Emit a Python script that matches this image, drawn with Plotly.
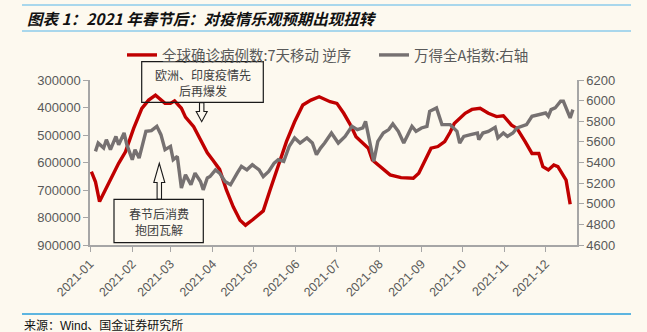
import plotly.graph_objects as go

# ---------------- data ----------------
case_dates = ["2021-01-02","2021-01-05","2021-01-08","2021-01-14","2021-01-22","2021-01-27",
 "2021-02-02","2021-02-08","2021-02-13","2021-02-18","2021-02-23","2021-02-25","2021-03-01",
 "2021-03-04","2021-03-09","2021-03-12","2021-03-18","2021-03-23","2021-03-28","2021-04-01",
 "2021-04-06","2021-04-11","2021-04-16","2021-04-21","2021-04-25","2021-04-30","2021-05-08",
 "2021-05-13","2021-05-19","2021-05-25","2021-05-31","2021-06-06","2021-06-12","2021-06-18",
 "2021-06-26","2021-07-01","2021-07-06","2021-07-11","2021-07-15","2021-07-20","2021-07-24",
 "2021-07-27","2021-08-03","2021-08-09","2021-08-17","2021-08-26","2021-08-30","2021-09-03",
 "2021-09-08","2021-09-13","2021-09-18","2021-09-22","2021-09-25","2021-10-03","2021-10-08",
 "2021-10-14","2021-10-20","2021-10-26","2021-10-31","2021-11-06","2021-11-10","2021-11-16",
 "2021-11-21","2021-11-26","2021-11-29","2021-12-03","2021-12-07","2021-12-10","2021-12-14",
 "2021-12-16","2021-12-19"]
case_values = [633000,670000,742000,682000,603000,561000,
 476000,403000,373000,355000,379000,385000,385000,
 376000,403000,435000,470000,520000,565000,591000,
 625000,700000,761000,810000,828000,809000,776000,
 700000,609000,524000,452000,391000,373000,361000,
 379000,385000,421000,464000,506000,530000,548000,
 591000,621000,645000,655000,657000,639000,597000,
 548000,542000,524000,490000,458000,421000,407000,
 403000,421000,433000,430000,464000,476000,524000,
 567000,567000,615000,627000,609000,615000,645000,
 664000,752000]

index_dates = ["2021-01-05","2021-01-07","2021-01-11","2021-01-13","2021-01-16","2021-01-20",
 "2021-01-22","2021-01-26","2021-01-28","2021-02-01","2021-02-03","2021-02-06","2021-02-11",
 "2021-02-15","2021-02-19","2021-02-22","2021-02-25","2021-03-01","2021-03-03","2021-03-06",
 "2021-03-09","2021-03-12","2021-03-16","2021-03-19","2021-03-23","2021-03-25","2021-03-28",
 "2021-03-30","2021-04-03","2021-04-06","2021-04-10","2021-04-14","2021-04-19","2021-04-22",
 "2021-04-26","2021-04-30","2021-05-05","2021-05-08","2021-05-12","2021-05-16","2021-05-19",
 "2021-05-23","2021-05-27","2021-05-31","2021-06-04","2021-06-09","2021-06-13","2021-06-16",
 "2021-06-19","2021-06-22","2021-06-27","2021-07-02","2021-07-07","2021-07-12","2021-07-16",
 "2021-07-20","2021-07-22","2021-07-24","2021-07-28","2021-07-31","2021-08-04","2021-08-08",
 "2021-08-11","2021-08-15","2021-08-19","2021-08-22","2021-08-25","2021-08-28","2021-09-01",
 "2021-09-05","2021-09-07","2021-09-12","2021-09-16","2021-09-22","2021-09-27","2021-09-29",
 "2021-10-02","2021-10-07","2021-10-12","2021-10-13","2021-10-16","2021-10-20","2021-10-25",
 "2021-10-27","2021-10-31","2021-11-03","2021-11-07","2021-11-10","2021-11-14","2021-11-17",
 "2021-11-21","2021-11-25","2021-12-01","2021-12-03","2021-12-05","2021-12-08","2021-12-12",
 "2021-12-14","2021-12-17","2021-12-19","2021-12-21"]
index_values = [5508,5589,5540,5621,5524,5653,
 5573,5686,5573,5427,5524,5443,5702,
 5709,5751,5670,5524,5556,5427,5459,
 5152,5281,5184,5297,5216,5135,5250,
 5264,5329,5297,5216,5184,5300,5362,
 5329,5378,5329,5264,5313,5394,5427,
 5410,5556,5638,5589,5638,5589,5476,
 5540,5589,5686,5589,5653,5751,5719,
 5735,5799,5670,5410,5605,5686,5719,
 5774,5702,5589,5670,5751,5702,5735,
 5751,5896,5929,5767,5767,5702,5589,
 5653,5670,5686,5621,5686,5702,5741,
 5638,5686,5653,5686,5735,5751,5767,
 5848,5864,5880,5848,5913,5929,5994,
 5994,5896,5832,5913]

series_names = ["全球确诊病例数:7天移动 逆序", "万得全A指数:右轴"]
left_ticks = [300000, 400000, 500000, 600000, 700000, 800000, 900000]
right_ticks = [4600, 4800, 5000, 5200, 5400, 5600, 5800, 6000, 6200]
title_text = "图表 1：2021 年春节后：对疫情乐观预期出现扭转"
source_text = "来源：Wind、国金证券研究所"
note_top = "欧洲、印度疫情先<br>后再爆发"
note_bottom = "春节后消费<br>抱团瓦解"

# ---------------- layout helpers ----------------
W, H = 647, 332
L, R, T, B = 90, 577, 80, 245  # plot area in pixels
def px(x):
    return (x - L) / (R - L)
def py(y):
    return (B - y) / (B - T)

BG = "#FDF9EF"
TXT = "#595959"
FONT = "Liberation Sans, Noto Sans CJK SC, sans-serif"
CJK = "Noto Sans CJK SC, sans-serif"

fig = go.Figure()
fig.add_trace(go.Scatter(x=case_dates, y=case_values, name=series_names[0], mode="lines",
                         line=dict(color="#C00000", width=3.4), yaxis="y", legend="legend"))
fig.add_trace(go.Scatter(x=index_dates, y=index_values, name=series_names[1], mode="lines",
                         line=dict(color="#767171", width=3.4), yaxis="y2", legend="legend2"))

shapes = []
# top / bottom blue rules
for yy, col in [(5, "#A9D7EC"), (31, "#A9D7EC"), (314, "#5DB5E0")]:
    shapes.append(dict(type="line", xref="paper", yref="paper", x0=px(22), x1=px(631),
                       y0=py(yy), y1=py(yy), line=dict(color=col, width=2)))
# annotation boxes
shapes.append(dict(type="rect", xref="paper", yref="paper", x0=px(141.7), x1=px(263.3),
                   y0=py(102.3), y1=py(61.7), line=dict(color="#1a1a1a", width=1.2),
                   fillcolor="rgba(0,0,0,0)"))
shapes.append(dict(type="rect", xref="paper", yref="paper", x0=px(114), x1=px(203.3),
                   y0=py(242.7), y1=py(199.3), line=dict(color="#1a1a1a", width=1.2),
                   fillcolor=BG))
# hollow arrows
def arrow(cx, y_base, y_neck, y_tip, sw=2.2, hw=5.5):
    pts = [(cx - sw, y_base), (cx - sw, y_neck), (cx - hw, y_neck), (cx, y_tip),
           (cx + hw, y_neck), (cx + sw, y_neck), (cx + sw, y_base)]
    return "M " + " L ".join(f"{px(a):.5f},{py(b):.5f}" for a, b in pts) + " Z"
shapes.append(dict(type="path", xref="paper", yref="paper", path=arrow(201.7, 102.6, 111.5, 121.7),
                   line=dict(color="#1a1a1a", width=1.1), fillcolor=BG))
shapes.append(dict(type="path", xref="paper", yref="paper", path=arrow(159.3, 199.0, 182.5, 163.3),
                   line=dict(color="#1a1a1a", width=1.1), fillcolor=BG))

annotations = [
    dict(text=f"<b><i>{title_text}</i></b>", xref="paper", yref="paper", x=px(25), y=py(18),
         xanchor="left", yanchor="middle", showarrow=False,
         font=dict(family=CJK, size=15.5, color="#111111")),
    dict(text=source_text, xref="paper", yref="paper", x=px(22), y=py(325),
         xanchor="left", yanchor="middle", showarrow=False,
         font=dict(family="Liberation Sans, Noto Sans CJK SC", size=12, color="#111111")),
    dict(text=note_top, xref="paper", yref="paper", x=px(202.5), y=py(82),
         xanchor="center", yanchor="middle", showarrow=False, align="center",
         font=dict(family=CJK, size=12, color="#404040")),
    dict(text=note_bottom, xref="paper", yref="paper", x=px(158.6), y=py(221),
         xanchor="center", yanchor="middle", showarrow=False, align="center",
         font=dict(family=CJK, size=12, color="#404040")),
]

axis_line = "#A6A6A6"
leg_common = dict(orientation="h", y=py(55), xanchor="left", yanchor="middle",
                  font=dict(family=CJK, size=14.5, color=TXT), bgcolor="rgba(0,0,0,0)",
                  itemwidth=30)
fig.update_layout(
    width=W, height=H,
    margin=dict(l=L, r=W - R, t=T, b=H - B, pad=0),
    paper_bgcolor=BG, plot_bgcolor=BG,
    showlegend=True,
    legend=dict(x=px(122), **leg_common),
    legend2=dict(x=px(374), **leg_common),
    xaxis=dict(type="date", range=["2021-01-01", "2021-12-24"], tick0="2021-01-01", dtick="M1",
               tickformat="%Y-%m", tickangle=-45, showgrid=False, zeroline=False,
               showline=True, linecolor=axis_line, linewidth=1.5, ticks="outside",
               ticklen=5, tickcolor=axis_line,
               tickfont=dict(family=FONT, size=12.5, color=TXT)),
    yaxis=dict(range=[900000, 300000], tickvals=left_ticks, ticktext=[str(v) for v in left_ticks],
               showgrid=False, zeroline=False, showline=True, linecolor=axis_line, linewidth=1.5,
               ticks="outside", ticklen=5, tickcolor=axis_line,
               tickfont=dict(family=FONT, size=13, color=TXT)),
    yaxis2=dict(range=[4600, 6200], tickvals=right_ticks, overlaying="y", side="right",
                showgrid=False, zeroline=False, showline=True, linecolor=axis_line, linewidth=1.5,
                ticks="outside", ticklen=5, tickcolor=axis_line,
                tickfont=dict(family=FONT, size=13, color=TXT)),
    shapes=shapes,
    annotations=annotations,
)

fig.write_html("out.html")
